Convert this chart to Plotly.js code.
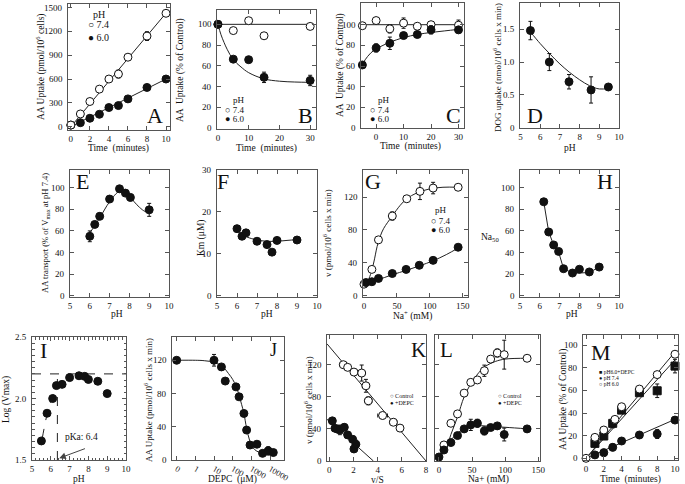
<!DOCTYPE html>
<html><head><meta charset="utf-8">
<script src="https://cdn.plot.ly/plotly-3.0.1.min.js"></script>
<style>html,body{margin:0;padding:0;background:#fff}#c{width:685px;height:484px}</style>
</head><body><div id="c"></div>
<script>
// ---------- DATA ----------
// A
const aTime=[0,1,2,3,4,5,6,8,10];
const aUp74=[20,160,317,473,600,663,875,1141,1428];
const aErr74=[null,null,null,null,null,50,null,55,null];
const aUp60=[20,50,106,156,241,266,350,494,600];
const aFitX=[0,10], aFit74=[0,1430], aFit60=[0,600];
const aYTicks=[0,300,600,900,1200,1500];
// B
const bTime=[0,5,10,15,30];
const bUp74=[100,94,103.5,89,98];
const bUp60=[100,66.5,66,49,46];
const bErr60=[null,null,null,5,5];
const bFit74X=[0,30], bFit74=[100,100];
const bFit60X=[0,1,2,3,5,7.5,10,15,20,25,30];
const bFit60=[100,90,82.5,76,66,59,53.5,47.5,45.3,44.5,44.2];
const pctTicks=[0,20,40,60,80,100];
// C
const cTime=[-5,0,5,10,15,20,30];
const cUp74=[99,104,96,101.5,98.5,100,99.5];
const cErr74=[null,3,4,5,null,3,5];
const cUp60=[61,77.5,82,89.5,90.5,95,95];
const cErr60=[null,4,6,null,null,4,3];
const cFit74X=[-5.5,30], cFit74=[100,100];
const cFit60X=[-5,-4,-2,0,2.5,5,10,15,20,25,30];
const cFit60=[61,66,72.5,76.5,80,83,87.5,90.5,92.5,94,95.5];
// D
const dPH=[5.5,6.46,7.46,8.58,9.46];
const dUp=[1.48,1.0,0.70,0.575,0.62];
const dErr=[0.14,0.13,0.11,0.2,null];
const dFitX=[5.5,6,6.5,7,7.5,8,8.5,9,9.5];
const dFit=[1.46,1.28,1.12,0.97,0.84,0.73,0.64,0.59,0.60];
const dYTicks=[0,0.5,1,1.5], dYText=['0','0.5','1.0','1.5'];
// E
const ePH=[6.0,6.25,6.5,7.0,7.5,7.8,8.05,9.0];
const eV=[55,66,73.5,89.5,99,95,91,79.5];
const eErr=[5,null,3,null,3,null,3,6];
const eFitX=[6,6.25,6.5,7,7.5,7.75,8,8.5,8.8,9];
const eFit=[58,65,72,87,97,97,92,82,78,78];
// F
const fPH=[6.0,6.25,6.45,7.0,7.5,7.75,8.0,9.0];
const fKm=[16,14.2,15,13,12.2,10.4,13.2,13.3];
const fFitX=[6.0,6.25,6.5,7,7.5,8,8.5,9];
const fFit=[15.5,14.6,14,13.3,13,13,13.2,13.4];
const fYTicks=[0,10,20,30];
// G
const gNa74=[0,12,22,43,65,85,105,143];
const gV74=[14,32,68,97,118,127,131,132];
const gErr74=[null,null,null,5,null,10,7,null];
const gNa60=[3,12,22,43,64,84,105,143];
const gV60=[16,17,21,27,32,37,43,59];
const gFit74X=[0,5,10,15,20,25,30,43,55,65,80,100,120,143];
const gFit74=[13,17,26,41,60,73,82,97,110,118,125,130,132,132];
const gFit60X=[0,20,43,65,85,105,125,143];
const gFit60=[14.5,19,25.5,31,36.5,42.5,50,58];
const vTicks=[0,40,80,120];
const naTicks=[0,50,100,150];
// H
const hPH=[6.2,6.45,6.7,6.95,7.2,7.65,8.0,8.5,9.0];
const hNa50=[87,59,47,41,25,21,24.5,22,26.5];
const hFit=[87,59,47,40.5,25,21,21,21.5,26.5];
// I
const iPH=[5.5,5.8,6.1,6.3,6.6,7.0,7.5,7.8,8.0,8.5,9.0];
const iLogV=[1.655,1.88,2.0,2.105,2.115,2.17,2.185,2.18,2.155,2.14,2.04];
const iHX=[5,10], iHY=[2.2,2.2];
const iVX=[6.35,6.35], iVY=[1.5,2.2];
const iDashX=[5.55,5.8,6.05,6.3], iDashY=[1.68,1.87,2.0,2.1];
const iYTicks=[1.5,2,2.5], iYText=['1.5','2.0','2.5'];
// J
const jDEPC=[0.1,10,25,40,150,220,400,560,850,2000,4000,8000,15000];
const jV=[120,120,112,95,88,76,56,36,18,19,8,11,9];
const jErr=[null,7,null,null,null,null,null,null,null,null,null,5,null];
const jFitX=[0.1,1,3,10,30,60,100,150,220,300,400,560,800,1200,2000,4000,15000];
const jFit=[120,120,119.5,117.5,112,104,97,89,78,67,56,38,24,15,10.5,8.5,8];
const jTickVals=[0.1,1,10,100,1000,10000];
const jTickText=['0','1','10','100','1000','10000'];
// K
const kVS74=[1.16,1.52,2.04,2.68,3.03,3.23,4.41,5.3,5.85];
const kV74=[120,116.7,110.8,109.6,93.7,75,56.7,48.3,41];
const kXErr74=[0.3,0.2,0.2,0.3,0.3,0.3,0.4,0.3,null];
const kYErr74=[4,null,null,10,8,5,4,4,null];
const kVSD=[0.25,0.47,0.69,0.88,1.24,1.52,1.93,2.04,2.2];
const kVD=[50,40.8,39.6,38.8,42,32.5,27,15,20.8];
const kXErrD=[0.2,0.2,null,0.3,0.2,0.2,0.2,0.2,0.2];
const kYErrD=[4,null,null,6,4,4,4,4,5];
const kFit74X=[-0.19,8], kFit74=[146,0];
const kFitDX=[-0.19,3.65], kFitD=[52,0];
// L
const lNa74=[7.5,18,28,38,48,58,68.5,78,88,98.5,133];
const lV74=[20,47,58.7,84.6,98,101,112.5,127,134.6,132.5,128];
const lErr74=[null,null,null,null,null,null,7,null,5,18,3];
const lNaD=[0,7.5,18,28,38,48,58,68.5,78,88,98.5,133];
const lVD=[5,13.75,23,31.7,40,45,47,37.5,41.7,43.75,33,40];
const lErrD=[null,null,null,null,null,7,5,5,null,null,8,null];
const lFit74X=[0,10,18,28,38,48,60,70,85,100,135];
const lFit74=[5,14,33,55,80,96,110,118,124,127,128];
const lFitDX=[0,10,20,30,40,50,60,80,100,135];
const lFitD=[5,17,28,36,41,43,44,43,42,40];
// M
const mTimeO=[0,1,2,3.25,4,6,8,10];
const mUpO=[0,18.5,25,34.4,45.6,61.2,74,92];
const mErrO=[null,2,2,null,2,2,2,2];
const mTimeS=[1,2,3,4,6,8,10];
const mUpS=[13.2,19.7,30.9,42.6,58,59.7,81.5];
const mErrS=[3,3,4,3,null,6,6];
const mTimeF=[1,2,3,4,6,8,10];
const mUpF=[3,5,9.7,15.3,20.6,21.5,33.8];
const mErrF=[null,3,3,null,2,4,2];
const mFitX=[0,10], mFitO=[0,94], mFitS=[0,87], mFitF=[0,34.4];

// ---------- LAYOUT HELPERS ----------
const W=685,H=484;
const FONT='Liberation Serif';
const INK='#111';
const TS=9.5, KS=9;
const layout={width:W,height:H,margin:{l:0,r:0,t:0,b:0},paper_bgcolor:'#fff',plot_bgcolor:'#fff',
  showlegend:false,font:{family:FONT,size:TS,color:INK},annotations:[]};
const traces=[];
function id(n){return n===1?'':String(n);}
function axes(n,box,xr,yr,xo,yTicks,yText){
  const mk=()=>({showline:true,mirror:'ticks',linecolor:'#555',linewidth:1,ticks:'inside',ticklen:4,
    tickwidth:1,tickcolor:'#555',showgrid:false,zeroline:false,
    tickfont:{family:FONT,size:KS,color:INK}});
  layout['xaxis'+id(n)]=Object.assign(mk(),{domain:[box[0]/W,box[1]/W],range:xr,anchor:'y'+id(n)},xo||{});
  layout['yaxis'+id(n)]=Object.assign(mk(),{domain:[1-box[3]/H,1-box[2]/H],range:yr,anchor:'x'+id(n),
    tickmode:'array',tickvals:yTicks,showticklabels:false});
  if(yText!==null){
    yTicks.forEach((v,i)=>{
      layout.annotations.push({xref:'paper',yref:'y'+id(n),x:(box[0]-3)/W,y:v,xanchor:'right',yanchor:'middle',
        showarrow:false,text:yText?yText[i]:String(v),font:{family:FONT,size:KS,color:INK}});
    });
  }
}
function pts(n,x,y,kind,ey,ex){
  const m={size:8,color:INK,symbol:'circle',line:{color:INK,width:1}};
  if(kind==='open'){m.color='#fff';}
  if(kind==='square'){m.symbol='square';}
  const t={type:'scatter',mode:'markers',x:x,y:y,xaxis:'x'+id(n),yaxis:'y'+id(n),marker:m,cliponaxis:false,hoverinfo:'skip'};
  if(ey) t.error_y={type:'data',array:ey,visible:true,color:INK,thickness:1,width:2};
  if(ex) t.error_x={type:'data',array:ex,visible:true,color:INK,thickness:1,width:2};
  traces.push(t);
}
function line(n,x,y,opt){
  opt=opt||{};
  traces.push({type:'scatter',mode:'lines',x:x,y:y,xaxis:'x'+id(n),yaxis:'y'+id(n),hoverinfo:'skip',
    line:{color:'#222',width:opt.w||1,shape:opt.shape||'linear',dash:opt.dash||'solid',smoothing:1}});
}
function ann(px,py,text,o,size){
  layout.annotations.push(Object.assign({xref:'paper',yref:'paper',x:px/W,y:1-py/H,text:text,showarrow:false,
    xanchor:'center',yanchor:'middle',font:{family:FONT,size:size||TS,color:INK}},o||{}));
}
function ytitle(px,py,text,size){ann(px,py,text,{textangle:-90},size);}
function letter(px,py,t,s){ann(px,py,t,{},s||22);}
function leg(px,py,text,s){ann(px,py,text,{xanchor:'left'},s||10.5);}

// ---------- PANELS ----------
// A
axes(1,[68,170,4,130],[-0.3,10.42],[-42,1545],{dtick:2},aYTicks);
line(1,aFitX,aFit74); line(1,aFitX,aFit60);
pts(1,aTime,aUp60,'filled'); pts(1,aTime,aUp74,'open',aErr74);
ytitle(40,67,'AA Uptake (pmol/10<sup>6</sup> cells)');
ann(118,148,'Time  (minutes)');
letter(155,116,'A');
leg(91,14,'pH',10); leg(86,25,'○ 7.4',10); leg(86,37,'● 6.0',10);
// B
axes(2,[217,316,10,129],[-0.3,31.9],[-0.7,113.8],{dtick:10},pctTicks);
line(2,bFit74X,bFit74); line(2,bFit60X,bFit60,{shape:'spline'});
pts(2,bTime,bUp74,'open'); pts(2,bTime,bUp60,'filled',bErr60);
ytitle(181,70,'AA  Uptake (% of Control)');
ann(266,148,'Time  (minutes)');
letter(305,116,'B');
leg(231,100,'pH',9); leg(223,110,'○ 7.4',9); leg(223,119,'● 6.0',9);
// C
axes(3,[361,464,3,128],[-5.5,32],[0,121],{tickvals:[0,10,20,30]},pctTicks);
line(3,cFit74X,cFit74); line(3,cFit60X,cFit60,{shape:'spline'});
pts(3,cTime,cUp74,'open',cErr74); pts(3,cTime,cUp60,'filled',cErr60);
ytitle(341,65,'AA  Uptake (% of Control)');
ann(410,147,'Time  (minutes)');
letter(453,116,'C');
leg(376,100,'pH',9); leg(368,110,'○ 7.4',9); leg(368,119,'● 6.0',9);
// D
axes(4,[520,619,3,128],[4.97,10],[-0.005,1.9],{dtick:1},dYTicks,dYText);
line(4,dFitX,dFit,{shape:'spline'});
pts(4,dPH,dUp,'filled',dErr);
ytitle(497,68,'DOG uptake (nmol/10<sup>6</sup> cells x min)',9);
ann(570,148,'pH');
letter(535,115,'D');
// E
axes(5,[70,169,170,297],[5,10],[-1.2,116.4],{dtick:1},pctTicks);
line(5,eFitX,eFit,{shape:'spline'});
pts(5,ePH,eV,'filled',eErr);
ytitle(45,233,'AA transport (% of V<sub>max</sub> at pH 7.4)',8.5);
ann(117,314,'pH');
letter(82,182,'E');
// F
axes(6,[217,317,170,297],[5,10],[-0.3,30],{dtick:1},fYTicks);
line(6,fFitX,fFit,{shape:'spline'});
pts(6,fPH,fKm,'filled');
ytitle(201,238,'Km (μM)');
ann(267,314,'pH');
letter(223,182,'F');
// G
axes(7,[363,468,170,297],[-1.5,158],[-1.6,153],{tickvals:naTicks},vTicks);
line(7,gFit74X,gFit74,{shape:'spline'}); line(7,gFit60X,gFit60,{shape:'spline'});
pts(7,gNa74,gV74,'open',gErr74); pts(7,gNa60,gV60,'filled');
ytitle(327,233,'v (pmol/10<sup>6</sup> cells x min)',9);
ann(412,315,'Na<sup>+</sup> (mM)');
letter(373,182,'G');
leg(433,210,'pH',9); leg(429,221,'○ 7.4',9); leg(429,230,'● 6.0',9);
// H
axes(8,[520,619,170,297],[5,10],[-1.2,116.4],{dtick:1},pctTicks);
line(8,hPH,hFit);
pts(8,hPH,hNa50,'filled');
ann(490,237,'Na<sub>50</sub>');
ann(572,314,'pH');
letter(605,182,'H');
// I
axes(9,[32,126,337,460],[5,10],[1.5,2.5],{dtick:1,minor:{dtick:0.2,ticks:'inside',ticklen:2.5,tickcolor:'#555'}},iYTicks,iYText);
layout.yaxis9.minor={dtick:0.05,ticks:'inside',ticklen:2.5,tickcolor:'#555'};
line(9,iHX,iHY,{dash:'dash'}); line(9,iVX,iVY,{dash:'dash'}); line(9,iDashX,iDashY,{dash:'dash',shape:'spline'});
pts(9,iPH,iLogV,'filled');
layout.annotations.push({xref:'x9',yref:'y9',x:6.45,y:1.515,axref:'x9',ayref:'y9',ax:7.95,ay:1.6,
  showarrow:true,arrowhead:2,arrowsize:1.3,arrowwidth:1,arrowcolor:'#444',text:' '});
layout.annotations.push({xref:'x9',yref:'y9',x:7.65,y:1.69,text:'pKa: 6.4',showarrow:false,
  font:{family:FONT,size:TS,color:INK}});
ytitle(6,400,'Log (Vmax)');
ann(79,479,'pH');
letter(43,350,'I');
// J
axes(10,[172,284,337,460],[-1.25,4.75],[0,148],{type:'log',tickvals:jTickVals,ticktext:jTickText,tickfont:{family:FONT,size:8.5,color:INK}},vTicks);
line(10,jFitX,jFit,{shape:'spline'});
pts(10,jDEPC,jV,'filled',jErr);
ytitle(148,400,'AA Uptake (pmol/10<sup>6</sup> cells x min)',9);
ann(232,479,'DEPC  (μM)');
letter(273,350,'J',18);
// K
axes(11,[327,426,335,461],[-0.19,8],[0,157],{dtick:2},vTicks);
line(11,kFit74X,kFit74); line(11,kFitDX,kFitD);
pts(11,kVS74,kV74,'open',kYErr74,kXErr74); pts(11,kVSD,kVD,'filled',kYErrD,kXErrD);
ytitle(308,400,'v (pmol/10<sup>6</sup> cells x min)',9);
ann(377,479.5,'v/S');
letter(418,350,'K',21);
leg(388,396,'○ Control',6); leg(388,403,'● +DEPC',6);
// L
axes(12,[435,540,335,461],[-6,152.5],[0,157],{tickvals:naTicks},vTicks,null);
line(12,lFit74X,lFit74,{shape:'spline'}); line(12,lFitDX,lFitD,{shape:'spline'});
pts(12,lNa74,lV74,'open',lErr74); pts(12,lNaD,lVD,'filled',lErrD);
ann(488,479.5,'Na+ (mM)');
letter(446,350,'L',21);
leg(496,396,'○ Control',6); leg(496,403,'● +DEPC',6);
// M
axes(13,[583,678,335,460],[-0.34,10.34],[-1.5,109],{dtick:2},pctTicks);
line(13,mFitX,mFitO); line(13,mFitX,mFitS); line(13,mFitX,mFitF);
pts(13,mTimeF,mUpF,'filled',mErrF); pts(13,mTimeS,mUpS,'square',mErrS); pts(13,mTimeO,mUpO,'open',mErrO);
ytitle(563,400,'AA Uptake (% of Control)');
ann(630,479,'Time  (minutes)');
letter(601,352,'M');
leg(597,372,'■ pH6.0+DEPC',5.5); leg(597,378,'● pH 7.4',5.5); leg(597,384,'○ pH 6.0',5.5);

Plotly.newPlot('c',traces,layout,{staticPlot:true,displayModeBar:false});
</script></body></html>
